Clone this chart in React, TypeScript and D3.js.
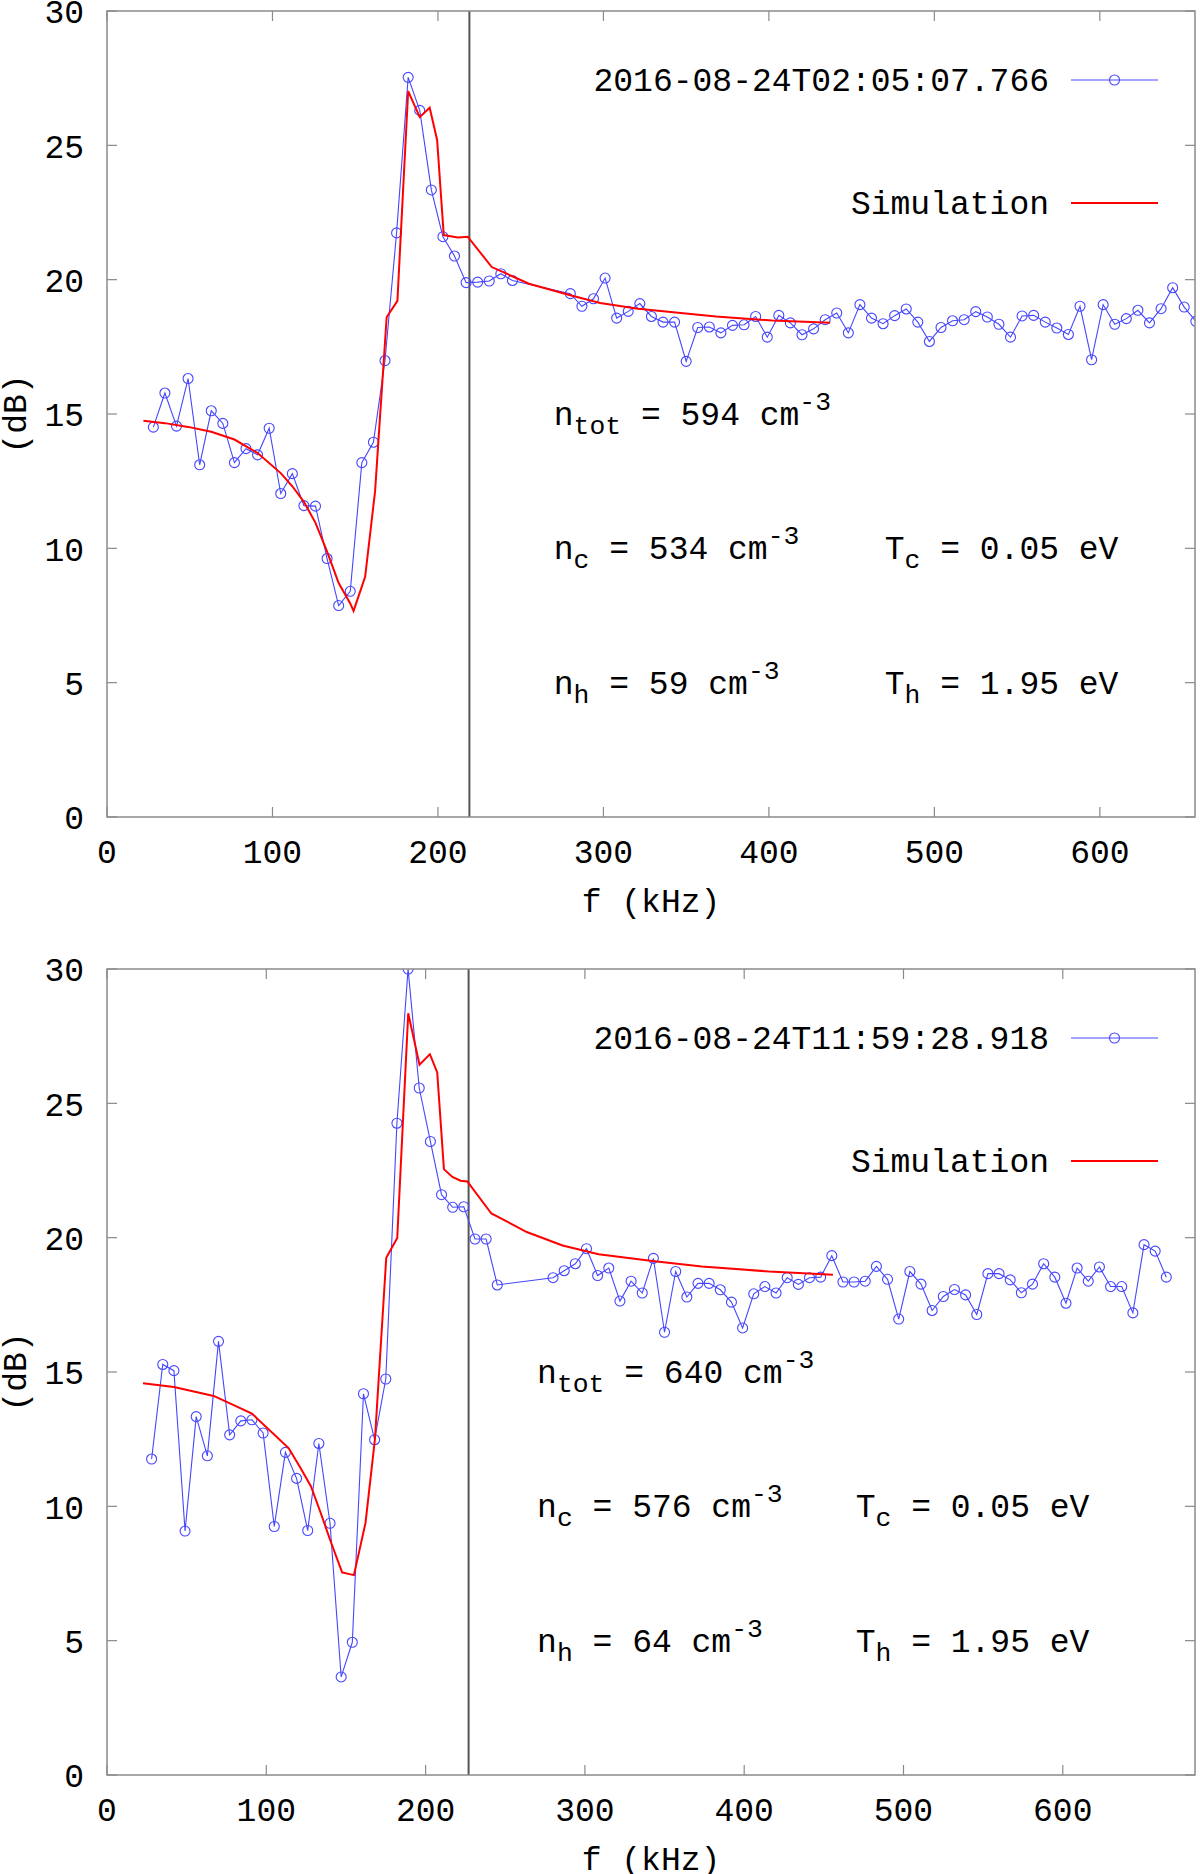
import { useEffect, useRef } from 'react';
import * as d3 from 'd3';

const FONT = '"Liberation Mono", "Courier New", monospace';
const FS = 33;
const FS_SMALL = 26.4;

// ---- 上图 2016-08-24T02:05:07.766 ----
const topFreq = [
  28, 35, 42, 49, 56, 63, 70, 77, 84, 91, 98, 105, 112, 119, 126, 133, 140, 147, 154, 161,
  168, 175, 182, 189, 196, 203, 210, 217, 224, 231, 238, 245, 280, 287, 294, 301, 308, 315,
  322, 329, 336, 343, 350, 357, 364, 371, 378, 385, 392, 399, 406, 413, 420, 427, 434, 441,
  448, 455, 462, 469, 476, 483, 490, 497, 504, 511, 518, 525, 532, 539, 546, 553, 560, 567,
  574, 581, 588, 595, 602, 609, 616, 623, 630, 637, 644, 651, 658,
];
const topDb = [
  14.51, 15.78, 14.55, 16.32, 13.11, 15.12, 14.65, 13.19, 13.71, 13.48, 14.47, 12.04, 12.78,
  11.59, 11.57, 9.62, 7.87, 8.4, 13.19, 13.95, 16.99, 21.74, 27.53, 26.3, 23.34, 21.6, 20.88,
  19.89, 19.91, 19.95, 20.22, 19.97, 19.48, 19.01, 19.29, 20.06, 18.57, 18.82, 19.11, 18.63,
  18.42, 18.42, 16.96, 18.22, 18.24, 18.02, 18.3, 18.32, 18.63, 17.86, 18.67, 18.39, 17.95,
  18.17, 18.51, 18.76, 18.02, 19.07, 18.57, 18.36, 18.66, 18.91, 18.42, 17.7, 18.22, 18.47,
  18.51, 18.81, 18.61, 18.34, 17.86, 18.65, 18.67, 18.42, 18.2, 17.96, 19.01, 17.02, 19.07,
  18.34, 18.55, 18.86, 18.39, 18.92, 19.7, 18.98, 18.45,
];
const topSimFreq = [
  22, 35, 49, 63, 77, 91, 105, 112, 119, 126, 133, 140, 147, 149, 156, 162, 169, 175.5, 182,
  189, 195, 199.5, 203.5, 212, 218, 232.5, 255, 280, 298, 321, 368, 402, 437,
];
const topSimDb = [
  14.75, 14.66, 14.52, 14.34, 14.05, 13.55, 12.8, 12.31, 11.73, 10.95, 9.88, 8.71, 7.95, 7.67,
  8.94, 12.12, 18.6, 19.21, 27.02, 26.05, 26.4, 25.2, 21.66, 21.57, 21.6, 20.47, 19.85, 19.42,
  19.13, 18.92, 18.63, 18.48, 18.4,
];

// ---- 下图 2016-08-24T11:59:28.918 ----
const botFreq = [
  28, 35, 42, 49, 56, 63, 70, 77, 84, 91, 98, 105, 112, 119, 126, 133, 140, 147, 154, 161,
  168, 175, 182, 189, 196, 203, 210, 217, 224, 231, 238, 245, 280, 287, 294, 301, 308, 315,
  322, 329, 336, 343, 350, 357, 364, 371, 378, 385, 392, 399, 406, 413, 420, 427, 434, 441,
  448, 455, 462, 469, 476, 483, 490, 497, 504, 511, 518, 525, 532, 539, 546, 553, 560, 567,
  574, 581, 588, 595, 602, 609, 616, 623, 630, 637, 644, 651, 658, 665,
];
const botDb = [
  11.76, 15.28, 15.05, 9.08, 13.34, 11.88, 16.14, 12.66, 13.18, 13.22, 12.73, 9.25, 12.01,
  11.04, 9.1, 12.34, 9.37, 3.65, 4.94, 14.19, 12.48, 14.74, 24.26, 30.0, 25.57, 23.58, 21.6,
  21.13, 21.15, 19.95, 19.95, 18.24, 18.51, 18.77, 19.03, 19.59, 18.59, 18.87, 17.64, 18.38,
  17.94, 19.23, 16.48, 18.74, 17.79, 18.3, 18.3, 18.06, 17.6, 16.64, 17.91, 18.18, 17.94,
  18.51, 18.26, 18.51, 18.53, 19.33, 18.35, 18.35, 18.38, 18.93, 18.45, 16.97, 18.74, 18.27,
  17.29, 17.81, 18.07, 17.87, 17.14, 18.66, 18.66, 18.43, 17.95, 18.27, 19.03, 18.53, 17.56,
  18.87, 18.38, 18.91, 18.18, 18.18, 17.2, 19.74, 19.5, 18.53,
];
const botSimFreq = [
  22.6, 42, 67, 91, 114, 121.5, 128, 134, 140.3, 147.6, 155, 162.3, 168.2, 175.3, 182.2, 189.1,
  196.2, 202.7, 207.3, 211.5, 216.8, 222, 226.2, 241.3, 263.5, 286, 308.6, 342.4, 373.4, 415.7,
  455.7,
];
const botSimDb = [
  14.58, 14.44, 14.11, 13.45, 12.17, 11.43, 10.75, 9.78, 8.71, 7.54, 7.44, 9.39, 12.5, 19.25,
  19.99, 28.35, 26.44, 26.83, 26.15, 22.55, 22.26, 22.12, 22.09, 20.9, 20.21, 19.71, 19.38,
  19.13, 18.93, 18.74, 18.62,
];

const xTicks = [0, 100, 200, 300, 400, 500, 600];
const yTicks = [0, 5, 10, 15, 20, 25, 30];
const simLabel = 'Simulation';

type Part = [string, '' | 'sub' | 'sup'];
interface Note {
  f: number;
  db: number;
  parts: Part[];
}

const topNotes: Note[] = [
  { f: 270, db: 15, parts: [['n', ''], ['tot', 'sub'], [' = 594 cm', ''], ['-3', 'sup']] },
  { f: 270, db: 10, parts: [['n', ''], ['c', 'sub'], [' = 534 cm', ''], ['-3', 'sup']] },
  { f: 270, db: 5, parts: [['n', ''], ['h', 'sub'], [' = 59 cm', ''], ['-3', 'sup']] },
  { f: 470, db: 10, parts: [['T', ''], ['c', 'sub'], [' = 0.05 eV', '']] },
  { f: 470, db: 5, parts: [['T', ''], ['h', 'sub'], [' = 1.95 eV', '']] },
];
const botNotes: Note[] = [
  { f: 270, db: 15, parts: [['n', ''], ['tot', 'sub'], [' = 640 cm', ''], ['-3', 'sup']] },
  { f: 270, db: 10, parts: [['n', ''], ['c', 'sub'], [' = 576 cm', ''], ['-3', 'sup']] },
  { f: 270, db: 5, parts: [['n', ''], ['h', 'sub'], [' = 64 cm', ''], ['-3', 'sup']] },
  { f: 470, db: 10, parts: [['T', ''], ['c', 'sub'], [' = 0.05 eV', '']] },
  { f: 470, db: 5, parts: [['T', ''], ['h', 'sub'], [' = 1.95 eV', '']] },
];

const panels = [
  {
    id: 'top',
    label: '2016-08-24T02:05:07.766',
    freq: topFreq,
    db: topDb,
    simFreq: topSimFreq,
    simDb: topSimDb,
    xMax: 657.5,
    vline: 219,
    notes: topNotes,
    box: { left: 107, right: 1195, top: 11, bottom: 817 },
  },
  {
    id: 'bot',
    label: '2016-08-24T11:59:28.918',
    freq: botFreq,
    db: botDb,
    simFreq: botSimFreq,
    simDb: botSimDb,
    xMax: 683,
    vline: 227,
    notes: botNotes,
    box: { left: 107, right: 1195, top: 969, bottom: 1775 },
  },
];

const BLUE = '#4646ff';
const RED = '#ff0000';
const AXIS = '#8a8a8a';

export default function App() {
  const svgRef = useRef<SVGSVGElement>(null);

  useEffect(() => {
    if (!svgRef.current) return;
    const root = d3.select(svgRef.current);
    root.selectAll('*').remove();

    panels.forEach((p) => {
      const { left, right, top, bottom } = p.box;
      const x = d3.scaleLinear().domain([0, p.xMax]).range([left, right]);
      const y = d3.scaleLinear().domain([0, 30]).range([bottom, top]);
      const g = root.append('g');

      g.append('clipPath')
        .attr('id', `clip-${p.id}`)
        .append('rect')
        .attr('x', left)
        .attr('y', top)
        .attr('width', right - left)
        .attr('height', bottom - top);

      // 刻度（含镜像）
      const tickLen = 10;
      xTicks.forEach((t) => {
        const tx = x(t);
        g.append('line').attr('x1', tx).attr('x2', tx).attr('y1', bottom).attr('y2', bottom - tickLen)
          .attr('stroke', AXIS).attr('stroke-width', 1.2);
        g.append('line').attr('x1', tx).attr('x2', tx).attr('y1', top).attr('y2', top + tickLen)
          .attr('stroke', AXIS).attr('stroke-width', 1.2);
        g.append('text').attr('x', tx).attr('y', bottom + 46).attr('text-anchor', 'middle')
          .style('font-family', FONT).style('font-size', `${FS}px`).attr('fill', '#000').text(String(t));
      });
      yTicks.forEach((t) => {
        const ty = y(t);
        g.append('line').attr('x1', left).attr('x2', left + tickLen).attr('y1', ty).attr('y2', ty)
          .attr('stroke', AXIS).attr('stroke-width', 1.2);
        g.append('line').attr('x1', right).attr('x2', right - tickLen).attr('y1', ty).attr('y2', ty)
          .attr('stroke', AXIS).attr('stroke-width', 1.2);
        g.append('text').attr('x', 84).attr('y', ty).attr('dy', '0.37em').attr('text-anchor', 'end')
          .style('font-family', FONT).style('font-size', `${FS}px`).attr('fill', '#000').text(String(t));
      });

      // 坐标轴标题
      g.append('text').attr('x', (left + right) / 2).attr('y', bottom + 95).attr('text-anchor', 'middle')
        .style('font-family', FONT).style('font-size', `${FS}px`).text('f (kHz)');
      g.append('text')
        .attr('transform', `translate(26,${(top + bottom) / 2}) rotate(-90)`)
        .attr('text-anchor', 'middle')
        .style('font-family', FONT).style('font-size', `${FS}px`).text('(dB)');

      // 竖线
      g.append('line').attr('x1', x(p.vline)).attr('x2', x(p.vline)).attr('y1', top).attr('y2', bottom)
        .attr('stroke', '#555').attr('stroke-width', 2);

      const plot = g.append('g').attr('clip-path', `url(#clip-${p.id})`);
      const obs = p.freq.map((f, i) => [f, p.db[i]] as [number, number]);
      const sim = p.simFreq.map((f, i) => [f, p.simDb[i]] as [number, number]);
      const line = d3.line<[number, number]>().x((d) => x(d[0])).y((d) => y(d[1]));

      plot.append('path').attr('d', line(obs)).attr('fill', 'none').attr('stroke', BLUE).attr('stroke-width', 1.1);
      plot.selectAll('circle').data(obs).join('circle')
        .attr('cx', (d) => x(d[0])).attr('cy', (d) => y(d[1])).attr('r', 5)
        .attr('fill', 'none').attr('stroke', BLUE).attr('stroke-width', 1.1);
      plot.append('path').attr('d', line(sim)).attr('fill', 'none').attr('stroke', RED).attr('stroke-width', 2);

      // 注释
      p.notes.forEach((n) => {
        const t = g.append('text').attr('x', x(n.f)).attr('y', y(n.db) + 11)
          .style('font-family', FONT).style('font-size', `${FS}px`).attr('fill', '#000');
        let shift = 0;
        n.parts.forEach(([s, kind]) => {
          const target = kind === 'sub' ? 9 : kind === 'sup' ? -15 : 0;
          t.append('tspan').attr('dy', target - shift)
            .style('font-size', kind ? `${FS_SMALL}px` : `${FS}px`)
            .style('white-space', 'pre')
            .text(s);
          shift = target;
        });
      });

      // 图例
      const l1 = top + 69;
      const l2 = top + 192;
      g.append('text').attr('x', 1049).attr('y', l1 + 11).attr('text-anchor', 'end')
        .style('font-family', FONT).style('font-size', `${FS}px`).text(p.label);
      g.append('line').attr('x1', 1071).attr('x2', 1158).attr('y1', l1).attr('y2', l1)
        .attr('stroke', BLUE).attr('stroke-width', 1.1);
      g.append('circle').attr('cx', 1114.5).attr('cy', l1).attr('r', 5)
        .attr('fill', 'none').attr('stroke', BLUE).attr('stroke-width', 1.1);
      g.append('text').attr('x', 1049).attr('y', l2 + 11).attr('text-anchor', 'end')
        .style('font-family', FONT).style('font-size', `${FS}px`).text(simLabel);
      g.append('line').attr('x1', 1071).attr('x2', 1158).attr('y1', l2).attr('y2', l2)
        .attr('stroke', RED).attr('stroke-width', 2);

      // 边框
      g.append('rect').attr('x', left).attr('y', top).attr('width', right - left).attr('height', bottom - top)
        .attr('fill', 'none').attr('stroke', AXIS).attr('stroke-width', 1.5);
    });
  }, []);

  return (
    <svg
      ref={svgRef}
      width={1200}
      height={1874}
      style={{ position: 'absolute', left: 0, top: 0, background: '#fff' }}
    />
  );
}
